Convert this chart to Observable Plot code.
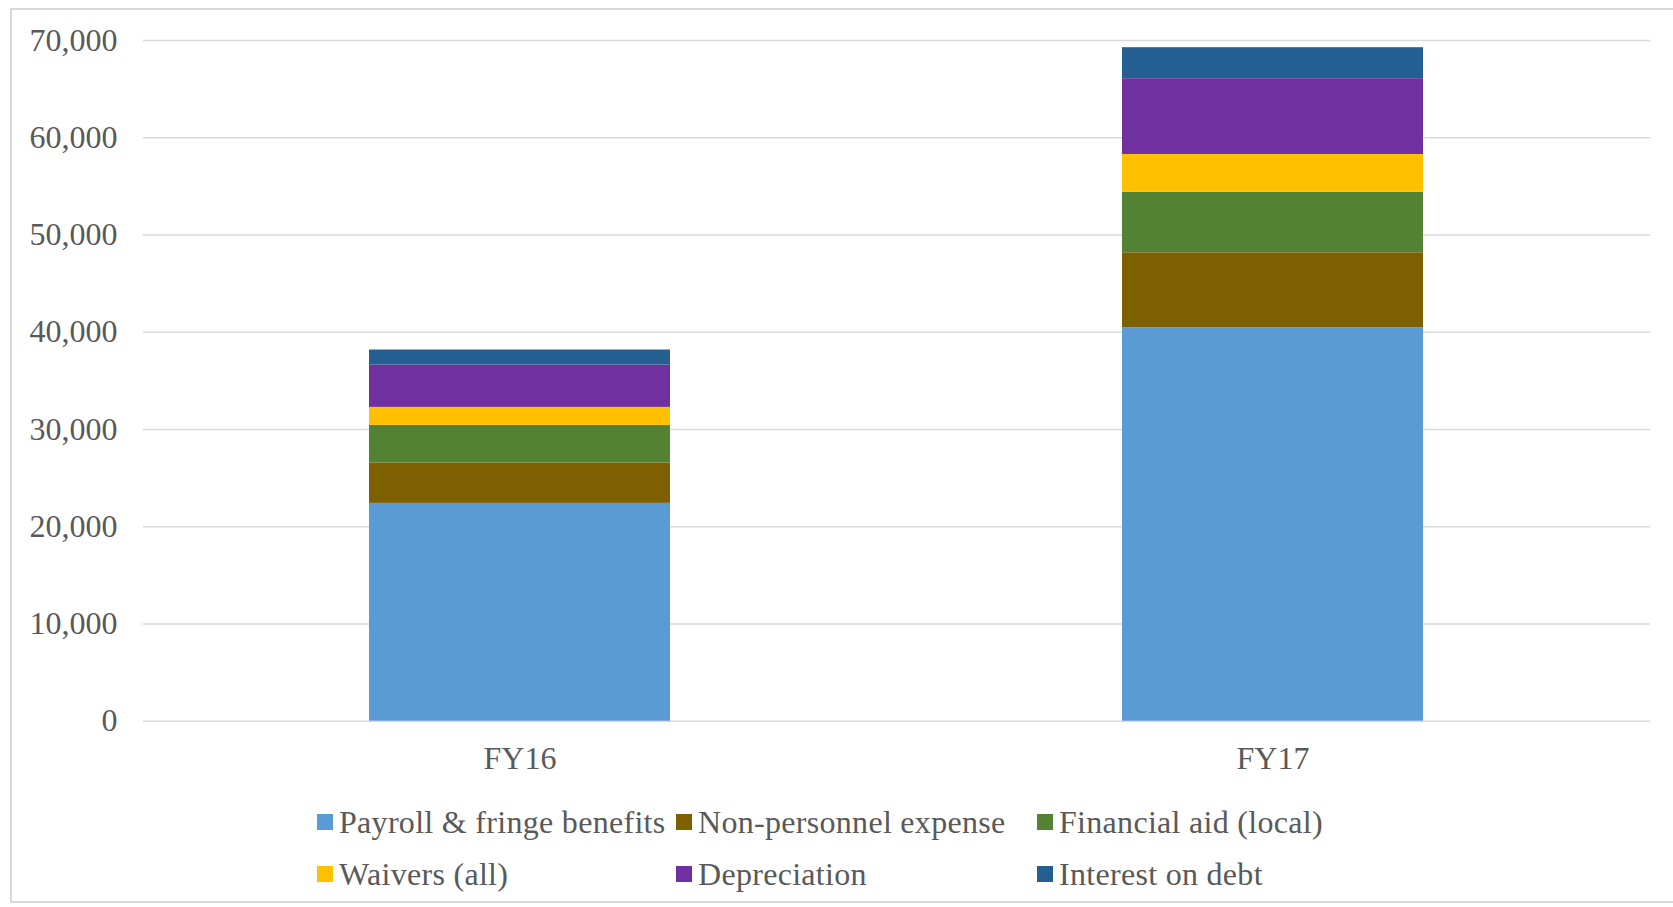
<!DOCTYPE html>
<html>
<head>
<meta charset="utf-8">
<script src="https://cdn.jsdelivr.net/npm/d3@7"></script>
<script src="https://cdn.jsdelivr.net/npm/@observablehq/plot@0.6"></script>
<style>
  html, body { margin: 0; padding: 0; background: #fff; overflow: hidden; }
  body { width: 1673px; height: 907px; position: relative; font-family: "Liberation Serif", "Times New Roman", serif; }
  #frame { position: absolute; left: 10px; top: 8px; width: 1700px; height: 895px; border: 2px solid #d9d9d9; box-sizing: border-box; }
  #chart { position: absolute; left: 0; top: 0; }
  #legend { position: absolute; left: 317px; top: 796px; display: grid; grid-template-columns: 359px 361px auto; grid-auto-rows: 52px; color: #595959; font-size: 32px; letter-spacing: 0.3px; }
  .item { display: flex; align-items: center; white-space: nowrap; }
  .sw { width: 16px; height: 16px; margin-right: 6px; flex: none; }
</style>
</head>
<body>
<div id="frame"></div>
<div id="chart"></div>
<div id="legend"></div>
<script>
const years = ["FY16", "FY17"];
const categories = ["Payroll & fringe benefits", "Non-personnel expense", "Financial aid (local)", "Waivers (all)", "Depreciation", "Interest on debt"];
const colors = ["#5B9BD5", "#7F6000", "#548235", "#FFC000", "#7030A0", "#255E91"];
const payroll = [22400, 40450];
const nonPersonnel = [4150, 7720];
const financialAid = [3870, 6230];
const waivers = [1850, 3880];
const depreciation = [4360, 7790];
const interest = [1540, 3190];
const yTicks = [0, 10000, 20000, 30000, 40000, 50000, 60000, 70000];

const series = [payroll, nonPersonnel, financialAid, waivers, depreciation, interest];
const data = [];
categories.forEach((c, i) => years.forEach((y, j) => data.push({year: y, category: c, value: series[i][j]})));

const chart = Plot.plot({
  width: 1673,
  height: 790,
  marginTop: 40,
  marginBottom: 69.3,
  marginLeft: 143,
  marginRight: 23,
  style: {fontFamily: "Liberation Serif, Times New Roman, serif", fontSize: "32px", color: "#595959", background: "transparent"},
  x: {domain: years, paddingInner: 0.6, paddingOuter: 0.3, label: null},
  y: {domain: [0, 70000], label: null},
  color: {domain: categories, range: colors},
  marks: [
    Plot.ruleY(yTicks, {stroke: "#d9d9d9", strokeWidth: 1.5}),
    Plot.barY(data, {x: "year", y: "value", fill: "category"}),
    Plot.axisY({ticks: yTicks, tickFormat: d3.format(","), tickSize: 0, tickPadding: 26, fontSize: 32, label: null}),
    Plot.axisX({tickSize: 0, tickPadding: 25, fontSize: 32, label: null})
  ]
});
document.getElementById("chart").appendChild(chart);

const legend = document.getElementById("legend");
categories.forEach((c, i) => {
  const item = document.createElement("div");
  item.className = "item";
  const sw = document.createElement("span");
  sw.className = "sw";
  sw.style.background = colors[i];
  const t = document.createElement("span");
  t.textContent = c;
  item.appendChild(sw);
  item.appendChild(t);
  legend.appendChild(item);
});
</script>
</body>
</html>
